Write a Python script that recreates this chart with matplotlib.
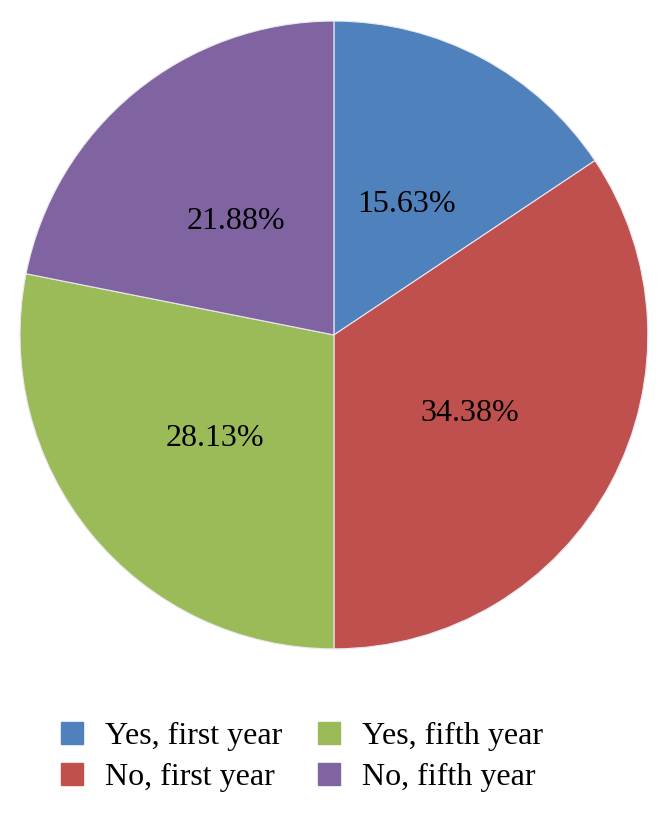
import matplotlib
matplotlib.use("Agg")
import matplotlib.pyplot as plt
from matplotlib.patches import Patch

labels = ["Yes, first year", "No, first year", "Yes, fifth year", "No, fifth year"]
values = [15.63, 34.38, 28.13, 21.88]
colors = ["#4F81BD", "#C0504D", "#9BBB59", "#8064A2"]

plt.rcParams['font.family'] = ['Liberation Serif', 'DejaVu Serif']

fig = plt.figure(figsize=(6.7, 8.15), dpi=100)
ax = fig.add_axes([0.0299, 0.2037, 0.937, 0.7706])
wedges, texts, autotexts = ax.pie(
    values, colors=colors, startangle=90, counterclock=False,
    autopct=lambda p: f"{p:.2f}%", pctdistance=0.49,
    wedgeprops=dict(edgecolor="#e8e8f0", linewidth=0.8),
    textprops=dict(fontsize=23, color="black"))
for t, v in zip(autotexts, values):
    t.set_text(f"{v:.2f}%")
    x, y = t.get_position()
    t.set_position((x, y - 0.018))
ax.set_aspect("equal")
ax.set_xlim(-1, 1)
ax.set_ylim(-1, 1)

handles = [Patch(facecolor=c, edgecolor=c) for c in colors]
fig.legend(handles, labels, ncol=2, loc="center", bbox_to_anchor=(0.451, 0.071),
           frameon=False, fontsize=23, handlelength=0.69, handleheight=0.69,
           handletextpad=0.69, columnspacing=1.13, labelspacing=0.36,
           borderpad=0, borderaxespad=0)

fig.savefig("out.png", dpi=100)
